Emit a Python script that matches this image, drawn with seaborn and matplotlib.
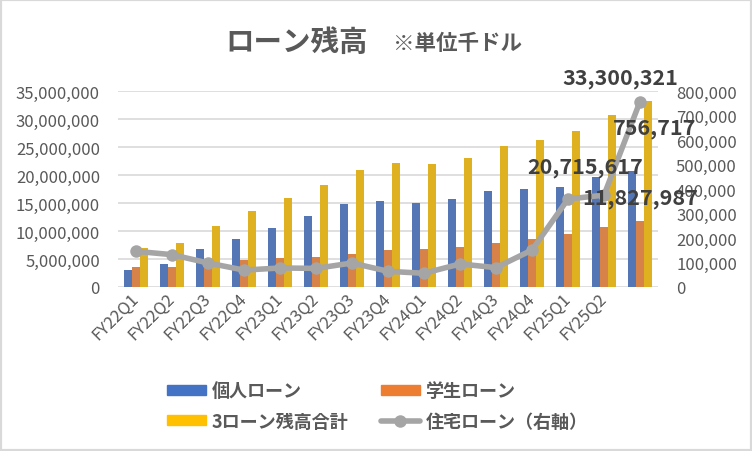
import numpy as np
import pandas as pd
import seaborn as sns
import matplotlib.pyplot as plt
from matplotlib.ticker import StrMethodFormatter, MultipleLocator
from matplotlib.patches import Patch, Rectangle
from matplotlib.lines import Line2D

# quarters (the last group has no label in the original)
quarters = ['FY22Q1', 'FY22Q2', 'FY22Q3', 'FY22Q4', 'FY23Q1', 'FY23Q2', 'FY23Q3', 'FY23Q4',
            'FY24Q1', 'FY24Q2', 'FY24Q3', 'FY24Q4', 'FY25Q1', 'FY25Q2', '']

personal = [3090000, 4100000, 6790000, 8570000, 10500000, 12700000, 14800000, 15400000,
            15000000, 15700000, 17100000, 17500000, 17900000, 19600000, 20715617]
student = [3570000, 3570000, 4300000, 4900000, 5200000, 5360000, 5900000, 6600000,
           6800000, 7140000, 7860000, 8570000, 9460000, 10700000, 11827987]
total3 = [6960000, 7860000, 10950000, 13570000, 15950000, 18200000, 20950000, 22100000,
          21960000, 23000000, 25200000, 26250000, 27860000, 30700000, 33300321]
housing = [145600, 132000, 98000, 69000, 77600, 76000, 98000, 64000,
           56000, 94000, 79000, 151000, 359000, 375000, 756717]

names = ['個人ローン', '学生ローン', '3ローン残高合計']
colors = ['#4472c4', '#ed7d31', '#ffc000']
line_name = '住宅ローン（右軸）'
line_color = '#a5a5a5'

df = pd.DataFrame({'q': quarters * 3,
                   'series': [names[0]] * 15 + [names[1]] * 15 + [names[2]] * 15,
                   'value': personal + student + total3})

sns.set_style("white")
plt.rcParams['font.family'] = ['Noto Sans CJK JP', 'DejaVu Sans']
txt = '#595959'

fig = plt.figure(figsize=(7.52, 4.52), dpi=100)
ax = fig.add_axes([118 / 752, 1 - 288 / 452, 540 / 752, 196 / 452])

sns.barplot(data=df, x='q', y='value', hue='series', hue_order=names, order=quarters,
            palette=colors, width=0.667, gap=0, linewidth=0, legend=False, ax=ax)
ax.set_ylim(0, 35000000)
ax.yaxis.set_major_locator(MultipleLocator(5000000))
ax.yaxis.set_major_formatter(StrMethodFormatter('{x:,.0f}'))
ax.grid(axis='y', color='#d9d9d9', linewidth=1.2)
ax.set_axisbelow(True)
for s in ax.spines.values():
    s.set_visible(False)
ax.set_xlabel('')
ax.set_ylabel('')
ax.tick_params(axis='y', length=0, pad=13, labelsize=12, labelcolor=txt)
ax.tick_params(axis='x', length=0, pad=6, labelsize=12, labelcolor=txt)
plt.setp(ax.get_xticklabels(), rotation=45, ha='right', va='center', rotation_mode='anchor')

ax2 = ax.twinx()
sns.lineplot(x=np.arange(len(quarters)), y=housing, color=line_color, linewidth=4,
             marker='o', markersize=9, markeredgewidth=0, ax=ax2)
ax2.set_ylim(0, 800000)
ax.set_xlim(-0.5, len(quarters) - 0.5)
ax2.yaxis.set_major_locator(MultipleLocator(100000))
ax2.yaxis.set_major_formatter(StrMethodFormatter('{x:,.0f}'))
for s in ax2.spines.values():
    s.set_visible(False)
ax2.tick_params(axis='y', length=0, pad=13, labelsize=12, labelcolor=txt)
ax2.set_ylabel('')

# data labels for the last group
lab = dict(textcoords='offset pixels', ha='center', va='center', fontsize=15.5,
           fontweight='bold', color='#404040', annotation_clip=False)
last = len(quarters) - 1
w = 0.667 / 3
ax2.annotate(f'{total3[-1]:,}', xy=(last + w, total3[-1] / 35000000 * 800000), xytext=(-28, 23), **lab)
ax2.annotate(f'{housing[-1]:,}', xy=(last, housing[-1]), xytext=(15, -26), **lab)
ax2.annotate(f'{personal[-1]:,}', xy=(last - w, personal[-1] / 35000000 * 800000), xytext=(-47, 4), **lab)
ax2.annotate(f'{student[-1]:,}', xy=(last, student[-1] / 35000000 * 800000), xytext=(0, 23), **lab)

# title
fig.text(225 / 752, 1 - 43 / 452, 'ローン残高', fontsize=20.5, fontweight='bold', color=txt,
         ha='left', va='center')
fig.text(393 / 752, 1 - 43 / 452, '※単位千ドル', fontsize=15.5, fontweight='bold', color=txt,
         ha='left', va='center')

# legend
handles = [Patch(color=colors[0], label=names[0]),
           Patch(color=colors[2], label=names[2]),
           Patch(color=colors[1], label=names[1]),
           Line2D([], [], color=line_color, linewidth=4, marker='o', markersize=9,
                  markeredgewidth=0, label=line_name)]
fig.legend(handles=handles, ncol=2, loc='center', bbox_to_anchor=(377 / 752, 1 - 407 / 452),
           frameon=False, handlelength=2.2, handleheight=0.45,
           handletextpad=0.28, columnspacing=1.8, labelspacing=0.62,
           prop={'weight': 'bold', 'size': 13}, labelcolor=txt)

fig.add_artist(Rectangle((0, 0), 1, 1, transform=fig.transFigure, fill=False,
                         edgecolor='#d9d9d9', linewidth=3))

fig.savefig('out.png', dpi=100)
